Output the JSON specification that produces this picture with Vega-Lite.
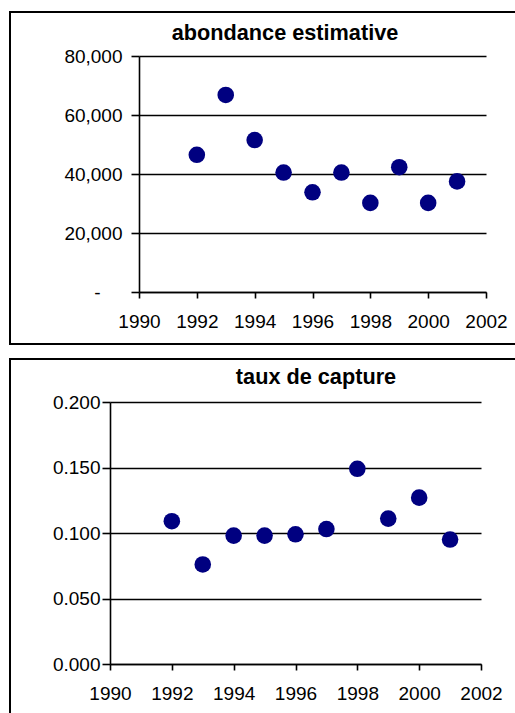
{
  "$schema": "https://vega.github.io/schema/vega-lite/v6.json",
  "padding": {"left": 9, "top": 11, "right": 0, "bottom": 0},
  "autosize": {"type": "pad"},
  "spacing": 13,
  "background": "white",
  "data": {"values": [
    {"year": 1992, "abondance": 46500, "taux": 0.109},
    {"year": 1993, "abondance": 66800, "taux": 0.076},
    {"year": 1994, "abondance": 51500, "taux": 0.098},
    {"year": 1995, "abondance": 40500, "taux": 0.098},
    {"year": 1996, "abondance": 33800, "taux": 0.099},
    {"year": 1997, "abondance": 40500, "taux": 0.103},
    {"year": 1998, "abondance": 30200, "taux": 0.149},
    {"year": 1999, "abondance": 42300, "taux": 0.111},
    {"year": 2000, "abondance": 30200, "taux": 0.127},
    {"year": 2001, "abondance": 37500, "taux": 0.095}
  ]},
  "config": {
    "font": "Liberation Sans",
    "view": {"stroke": "black", "strokeWidth": 2},
    "axis": {
      "title": null,
      "domainColor": "black", "domainWidth": 1.6,
      "tickColor": "black", "tickWidth": 1.6,
      "gridColor": "black", "gridWidth": 1.3, "gridOpacity": 1,
      "labelColor": "black", "labelFont": "Liberation Sans", "labelFontSize": 19
    },
    "title": {"font": "Liberation Sans", "fontSize": 21.7, "fontWeight": "bold", "color": "black", "anchor": "middle", "frame": "group", "baseline": "alphabetic"}
  },
  "vconcat": [
    {
      "width": 550, "height": 332,
      "title": {"text": "abondance estimative", "offset": -33},
      "mark": {"type": "point", "filled": true, "color": "#000080", "opacity": 1, "size": 275},
      "encoding": {
        "x": {"field": "year", "type": "quantitative",
          "scale": {"domain": [1990, 2002], "range": [129, 476], "nice": false, "zero": false},
          "axis": {"values": [1990, 1992, 1994, 1996, 1998, 2000, 2002], "format": "d", "grid": false, "offset": -52, "tickSize": 6, "labelPadding": 14, "labelDx": 5, "labelFlush": false, "labelOverlap": false}},
        "y": {"field": "abondance", "type": "quantitative",
          "scale": {"domain": [0, 80000], "range": [280, 44], "nice": false},
          "axis": {"values": [0, 20000, 40000, 60000, 80000], "grid": true, "offset": -129, "tickSize": 8,
            "labelPadding": {"condition": {"test": "datum.value == 0", "value": 31}, "value": 9},
            "labelExpr": "datum.value == 0 ? '-' : format(datum.value, ',')"}}
      }
    },
    {
      "width": 612, "height": 365,
      "title": {"text": "taux de capture", "offset": -30},
      "mark": {"type": "point", "filled": true, "color": "#000080", "opacity": 1, "size": 275},
      "encoding": {
        "x": {"field": "year", "type": "quantitative",
          "scale": {"domain": [1990, 2002], "range": [100, 471], "nice": false, "zero": false},
          "axis": {"values": [1990, 1992, 1994, 1996, 1998, 2000, 2002], "format": "d", "grid": false, "offset": -60, "tickSize": 6, "labelPadding": 14, "labelDx": 5, "labelFlush": false, "labelOverlap": false}},
        "y": {"field": "taux", "type": "quantitative",
          "scale": {"domain": [0, 0.2], "range": [305, 43], "nice": false},
          "axis": {"values": [0, 0.05, 0.1, 0.15, 0.2], "format": ".3f", "grid": true, "offset": -100, "tickSize": 8, "labelPadding": 2}}
      }
    }
  ]
}
